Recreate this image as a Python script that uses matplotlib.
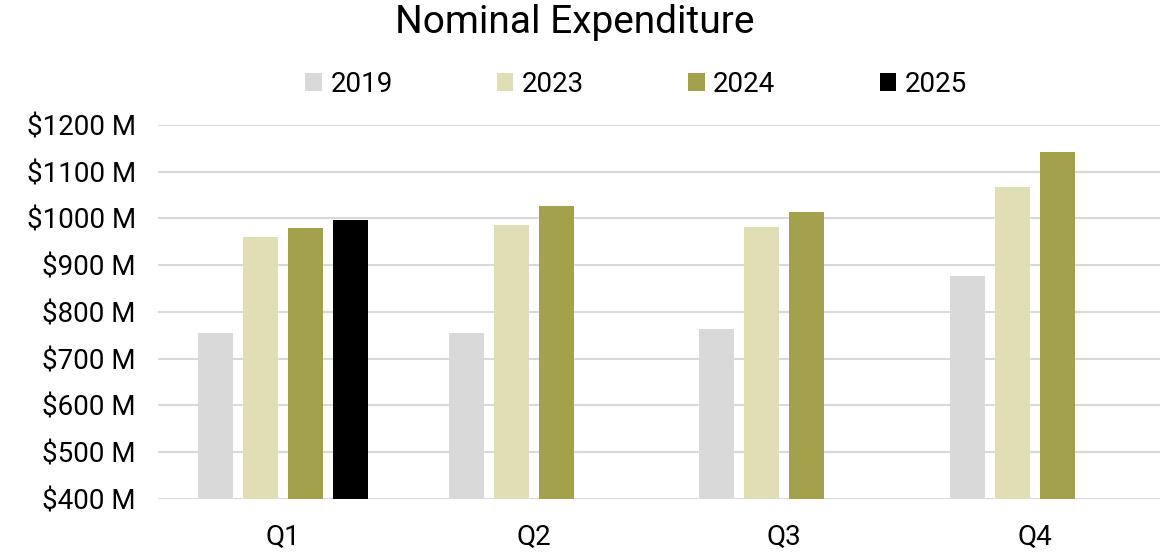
import numpy as np
import matplotlib
matplotlib.use("Agg")
import matplotlib.pyplot as plt

plt.rcParams['font.family'] = ['Roboto', 'DejaVu Sans']

# data (millions of dollars)
quarters = ['Q1', 'Q2', 'Q3', 'Q4']
years = ['2019', '2023', '2024', '2025']
values_2019 = [754, 754, 764, 876]
values_2023 = [961, 985, 982, 1067]
values_2024 = [979, 1027, 1014, 1142]
values_2025 = [996, None, None, None]
colors = ['#d9d9d9', '#e0deb4', '#a3a14b', '#000000']
yticks = [400, 500, 600, 700, 800, 900, 1000, 1100, 1200]

series = [values_2019, values_2023, values_2024, values_2025]

fig = plt.figure(figsize=(11.73, 5.54), dpi=100)
ax = fig.add_axes([0.1347, 0.0993, 0.8543, 0.6751])

x = np.arange(len(quarters))
pitch = 0.18
width = 0.14
for i, (vals, year, col) in enumerate(zip(series, years, colors)):
    xs = [xi + (i - 1.5) * pitch for xi, v in zip(x, vals) if v is not None]
    hs = [v - 400 for v in vals if v is not None]
    ax.bar(xs, hs, width=width, bottom=400, color=col, label=year, zorder=2)

ax.set_xlim(-0.5, 3.5)
ax.set_ylim(400, 1200)
ax.set_yticks(yticks)
ax.set_yticklabels([f'${t} M' for t in yticks])
ax.set_xticks(x)
ax.set_xticklabels(quarters)
ax.tick_params(axis='both', length=0, labelsize=20, colors='black')
ax.tick_params(axis='y', pad=16)
ax.tick_params(axis='x', pad=18)
ax.yaxis.grid(True, color='#d9d9d9', linewidth=1.5, zorder=0)
ax.set_axisbelow(True)
for s in ax.spines.values():
    s.set_visible(False)

fig.text(0.49, 0.96, 'Nominal Expenditure', ha='center', va='center', fontsize=28)

fig.legend(loc='center', bbox_to_anchor=(636 / 1173, 1 - 84 / 554), ncol=4, frameon=False,
           fontsize=20, handlelength=0.6, handleheight=0.6, handletextpad=0.3,
           columnspacing=3.75)

fig.savefig('out.png', dpi=100, facecolor='white')
